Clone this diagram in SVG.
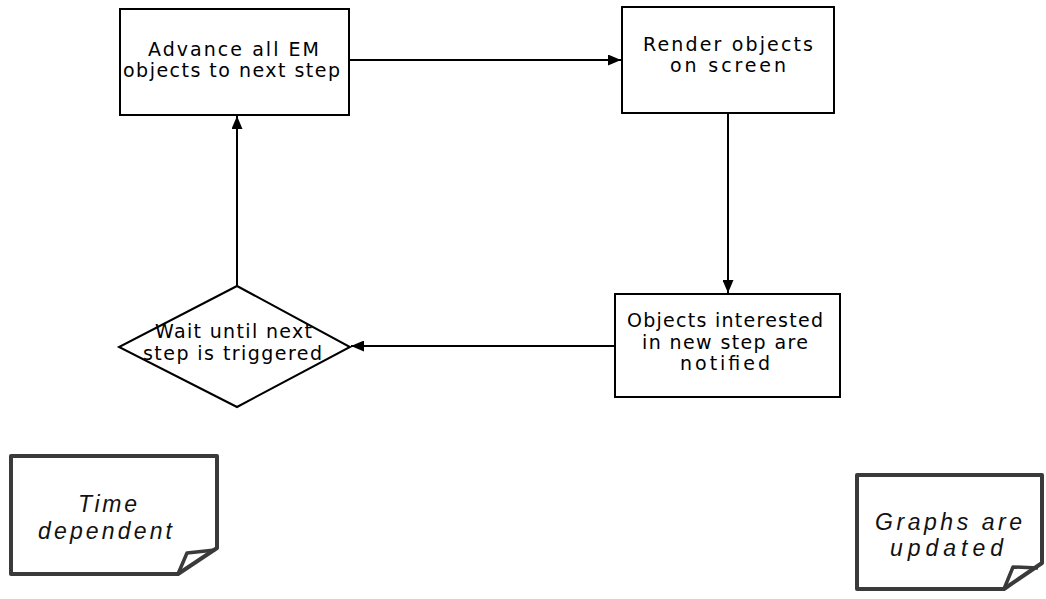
<svg xmlns="http://www.w3.org/2000/svg" width="1046" height="599" viewBox="0 0 1046 599">
<defs>
<style>
.box{fill:#fff;stroke:#000;stroke-width:2}
.t{font-family:"DejaVu Sans",sans-serif;font-size:19px;fill:#000}
.n{font-family:"Liberation Sans",Arial,sans-serif;font-size:23px;font-style:italic;fill:#111}
.note{fill:#fff;stroke:#3a3a3a;stroke-width:4;stroke-linejoin:round}
.fold{fill:none;stroke:#3a3a3a;stroke-width:3.5;stroke-linejoin:round}
.c{fill:none;stroke:#000;stroke-width:2}
</style>
<marker id="ah" viewBox="0 0 13 11" refX="13" refY="5.5" markerWidth="13" markerHeight="11" markerUnits="userSpaceOnUse" orient="auto">
<path d="M0,0 L13,5.5 L0,11 Z" fill="#000"/>
</marker>
</defs>
<rect width="1046" height="599" fill="#fff"/>
<g id="connectors">
<line class="c" x1="350" y1="60" x2="621" y2="60" marker-end="url(#ah)"/>
<line class="c" x1="728" y1="114" x2="728" y2="293" marker-end="url(#ah)"/>
<line class="c" x1="614" y1="346" x2="351" y2="346" marker-end="url(#ah)"/>
<line class="c" x1="237" y1="286" x2="237" y2="116" marker-end="url(#ah)"/>
</g>
<g id="advance">
<rect class="box" x="120" y="9" width="229" height="106"/>
<text class="t" x="148" y="56" textLength="171" lengthAdjust="spacing">Advance all EM</text>
<text class="t" x="123" y="77" textLength="217" lengthAdjust="spacing">objects to next step</text>
</g>
<g id="render">
<rect class="box" x="622" y="7" width="212" height="106"/>
<text class="t" x="643" y="51" textLength="170" lengthAdjust="spacing">Render objects</text>
<text class="t" x="670" y="72" textLength="116" lengthAdjust="spacing">on screen</text>
</g>
<g id="notified">
<rect class="box" x="615" y="294" width="225" height="103"/>
<text class="t" x="627" y="327" textLength="196" lengthAdjust="spacing">Objects interested</text>
<text class="t" x="642" y="349" textLength="166" lengthAdjust="spacing">in new step are</text>
<text class="t" x="680" y="370" textLength="90" lengthAdjust="spacing">notified</text>
</g>
<g id="wait">
<polygon class="box" points="237,286 350,347 237,407 119,347"/>
<text class="t" x="155" y="338" textLength="157" lengthAdjust="spacing">Wait until next</text>
<text class="t" x="143" y="360" textLength="179" lengthAdjust="spacing">step is triggered</text>
</g>
<g id="time-dependent">
<path class="note" d="M11,456 L217,456 L217,548 L178,574 L11,574 Z"/>
<path class="fold" d="M178,574 L187,553 L215,550"/>
<text class="n" x="78" y="512" textLength="59" lengthAdjust="spacing">Time</text>
<text class="n" x="38" y="539" textLength="134" lengthAdjust="spacing">dependent</text>
</g>
<g id="graphs-updated">
<path class="note" d="M857,475 L1042,475 L1042,563 L1004,589 L857,589 Z"/>
<path class="fold" d="M1004,589 L1013,567 L1038,568"/>
<text class="n" x="875" y="530" textLength="147" lengthAdjust="spacing">Graphs are</text>
<text class="n" x="890" y="556" textLength="113" lengthAdjust="spacing">updated</text>
</g>
</svg>
